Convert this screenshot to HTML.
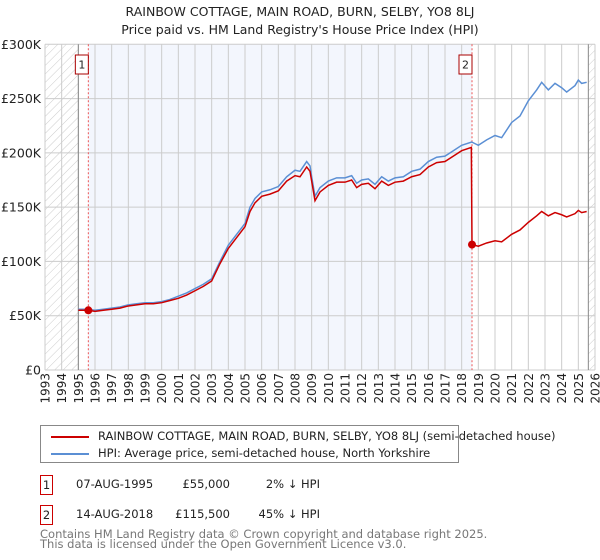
<!DOCTYPE html>
<html><head><meta charset="utf-8"><style>
body{margin:0;background:#fff;font-family:"DejaVu Sans","Liberation Sans",sans-serif;}
#wrap{position:relative;width:600px;height:560px;overflow:hidden}
</style></head><body><div id="wrap">
<svg id="chart" width="600" height="560" font-family="DejaVu Sans, Liberation Sans, sans-serif">
<defs><pattern id="hatch" width="6" height="6" patternUnits="userSpaceOnUse" patternTransform="rotate(45)"><line x1="0" y1="0" x2="0" y2="6" stroke="#ccc" stroke-width="1"/></pattern></defs>
<text x="300" y="16" text-anchor="middle" font-size="12.5" fill="#222">RAINBOW COTTAGE, MAIN ROAD, BURN, SELBY, YO8 8LJ</text>
<text x="300" y="34" text-anchor="middle" font-size="12.5" fill="#222">Price paid vs. HM Land Registry's House Price Index (HPI)</text>
<g id="plot"></g>
</svg>
<div style="position:absolute;left:40px;top:425px;width:417px;height:36px;border:1px solid #888;font-size:11.5px;color:#222">
 <div style="position:absolute;left:10px;top:5px;width:38px;height:2px;background:#cc0000;margin-top:5px"></div>
 <div style="position:absolute;left:57px;top:3px;white-space:nowrap">RAINBOW COTTAGE, MAIN ROAD, BURN, SELBY, YO8 8LJ (semi-detached house)</div>
 <div style="position:absolute;left:10px;top:22px;width:38px;height:2px;background:#5b8fd4;margin-top:5px"></div>
 <div style="position:absolute;left:57px;top:20px;white-space:nowrap">HPI: Average price, semi-detached house, North Yorkshire</div>
</div>
<div style="font-size:11.5px;color:#222">
 <div style="position:absolute;left:40px;top:475px;width:11px;height:18px;border:1px solid #cc0000;text-align:center;line-height:18px">1</div>
 <div style="position:absolute;left:76px;top:477px">07-AUG-1995</div>
 <div style="position:absolute;left:150px;width:80px;text-align:right;top:477px">£55,000</div>
 <div style="position:absolute;left:250px;width:70px;text-align:right;top:477px">2% ↓ HPI</div>
 <div style="position:absolute;left:40px;top:505px;width:11px;height:18px;border:1px solid #cc0000;text-align:center;line-height:18px">2</div>
 <div style="position:absolute;left:76px;top:507px">14-AUG-2018</div>
 <div style="position:absolute;left:150px;width:80px;text-align:right;top:507px">£115,500</div>
 <div style="position:absolute;left:250px;width:70px;text-align:right;top:507px">45% ↓ HPI</div>
</div>
<div style="position:absolute;left:40px;top:529px;font-size:11.5px;color:#777;line-height:10px">Contains HM Land Registry data © Crown copyright and database right 2025.<br>This data is licensed under the Open Government Licence v3.0.</div>
</div>
<script>
const yTicks=[0,50000,100000,150000,200000,250000,300000];
const yTickLabels=["£0","£50K","£100K","£150K","£200K","£250K","£300K"];
const xTicks=[1993,1994,1995,1996,1997,1998,1999,2000,2001,2002,2003,2004,2005,2006,2007,2008,2009,2010,2011,2012,2013,2014,2015,2016,2017,2018,2019,2020,2021,2022,2023,2024,2025,2026];
const hpiYears=[1995.0,1995.5,1996.0,1996.5,1997.0,1997.5,1998.0,1998.5,1999.0,1999.5,2000.0,2000.5,2001.0,2001.5,2002.0,2002.5,2003.0,2003.5,2004.0,2004.5,2005.0,2005.3,2005.6,2006.0,2006.5,2007.0,2007.5,2008.0,2008.3,2008.7,2008.9,2009.0,2009.2,2009.5,2010.0,2010.5,2011.0,2011.4,2011.7,2012.0,2012.4,2012.8,2013.2,2013.6,2014.0,2014.5,2015.0,2015.5,2016.0,2016.5,2017.0,2017.5,2018.0,2018.6,2019.0,2019.5,2020.0,2020.4,2021.0,2021.5,2022.0,2022.5,2022.8,2023.2,2023.6,2024.0,2024.3,2024.8,2025.0,2025.2,2025.5];
const hpiValues=[56000,56000,55000,56000,57000,58000,60000,61000,62000,62000,63000,65000,68000,71000,75000,79000,84000,100000,115000,125000,135000,150000,158000,164000,166000,169000,178000,184000,183000,192000,188000,178000,160000,168000,174000,177000,177000,179000,172000,175000,176000,171000,178000,174000,177000,178000,183000,185000,192000,196000,197000,202000,207000,210000,207000,212000,216000,214000,228000,234000,248000,258000,265000,258000,264000,260000,256000,262000,267000,264000,265000];
const propYears=[1995.0,1995.6,1996.0,1996.5,1997.0,1997.5,1998.0,1998.5,1999.0,1999.5,2000.0,2000.5,2001.0,2001.5,2002.0,2002.5,2003.0,2003.5,2004.0,2004.5,2005.0,2005.3,2005.6,2006.0,2006.5,2007.0,2007.5,2008.0,2008.3,2008.7,2008.9,2009.0,2009.2,2009.5,2010.0,2010.5,2011.0,2011.4,2011.7,2012.0,2012.4,2012.8,2013.2,2013.6,2014.0,2014.5,2015.0,2015.5,2016.0,2016.5,2017.0,2017.5,2018.0,2018.58,2018.62,2019.0,2019.5,2020.0,2020.4,2021.0,2021.5,2022.0,2022.5,2022.8,2023.2,2023.6,2024.0,2024.3,2024.8,2025.0,2025.2,2025.5];
const propValues=[55000,55000,54000,55000,56000,57000,59000,60000,61000,61000,62000,64000,66000,69000,73000,77000,82000,98000,112000,122000,132000,146000,154000,160000,162000,165000,174000,179000,178000,187000,183000,174000,156000,164000,170000,173000,173000,175000,168000,171000,172000,167000,174000,170000,173000,174000,178000,180000,187000,191000,192000,197000,202000,205000,115500,114000,117000,119000,118000,125000,129000,136000,142000,146000,142000,145000,143000,141000,144000,147000,145000,146000];
const saleYears=[1995.6,2018.62];
const saleValues=[55000,115500];
const saleLabels=["1","2"];

const NS="http://www.w3.org/2000/svg";
const L=45,R=595,T=44.3,B=370;
const x=v=>L+(v-1993)/(2026-1993)*(R-L);
const y=v=>B-v/300000*(B-T);
const g=document.getElementById('plot');
function mk(t,a){const e=document.createElementNS(NS,t);for(const k in a)e.setAttribute(k,a[k]);g.appendChild(e);return e;}
let e;
e=mk('rect',{x:x(saleYears[0]),y:T,width:x(saleYears[1])-x(saleYears[0]),height:B-T,fill:'#f3f6fd'});


e=mk('rect',{x:L,y:T,width:x(1995)-L,height:B-T,fill:'url(#hatch)'});


e=mk('rect',{x:x(2025.6),y:T,width:R-x(2025.6),height:B-T,fill:'url(#hatch)'});


xTicks.forEach((t,i)=>{
 e=mk('line',{x1:x(t),x2:x(t),y1:T,y2:B,stroke:'#ccc','stroke-width':1});
 
 
 e=mk('text',{x:0,y:0,transform:`translate(${x(t)+4.5},${B+3}) rotate(-90)`,'text-anchor':'end','font-size':12,fill:'#222'});
 e.textContent=t;
 
 
});
yTicks.forEach((t,i)=>{
 e=mk('line',{x1:L,x2:R,y1:y(t),y2:y(t),stroke:'#ccc','stroke-width':1});
 
 
 e=mk('text',{x:L-4,y:y(t)+4.5,'text-anchor':'end','font-size':12.5,fill:'#222'});
 e.textContent=yTickLabels[i];
 
 
});
e=mk('line',{x1:x(1995),x2:x(1995),y1:T,y2:B,stroke:'#888','stroke-width':1});


e=mk('line',{x1:x(2025.6),x2:x(2025.6),y1:T,y2:B,stroke:'#888','stroke-width':1});


saleYears.forEach((s,i)=>{
 e=mk('line',{x1:x(s),x2:x(s),y1:T,y2:B,stroke:'#e55','stroke-width':1,'stroke-dasharray':'2,2'});
 
 
});
e=mk('polyline',{points:hpiYears.map((t,i)=>x(t)+','+y(hpiValues[i])).join(' '),fill:'none',stroke:'#5b8fd4','stroke-width':1.5});


e=mk('polyline',{points:propYears.map((t,i)=>x(t)+','+y(propValues[i])).join(' '),fill:'none',stroke:'#cc0000','stroke-width':1.5});


saleYears.forEach((s,i)=>{
 e=mk('circle',{cx:x(s),cy:y(saleValues[i]),r:4,fill:'#cc0000'});
 
 
 e=mk('rect',{x:x(s)-13,y:55,width:13,height:19,fill:'#fff',stroke:'#aa0000','stroke-width':1});
 
 
 e=mk('text',{x:x(s)-6.5,y:68.5,'text-anchor':'middle','font-size':11,fill:'#222'});
 e.textContent=saleLabels[i];
 
 
});
</script>
</body></html>
